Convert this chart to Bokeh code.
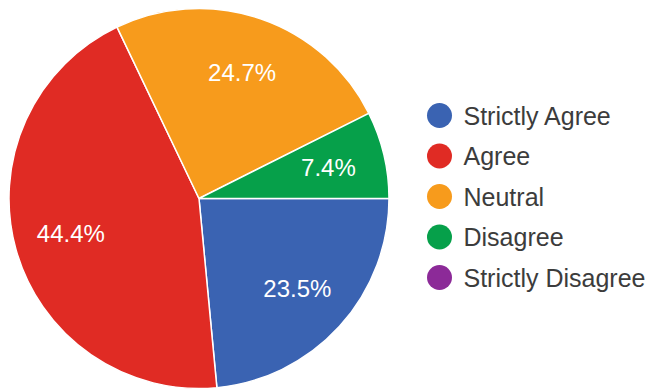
import math
from bokeh.plotting import figure
from bokeh.models import ColumnDataSource
from bokeh.core.properties import value
from bokeh.embed import file_html
from bokeh.resources import INLINE

categories = ["Strictly Agree", "Agree", "Neutral", "Disagree", "Strictly Disagree"]
percents = [23.5, 44.4, 24.7, 7.4, 0.0]
colors = ["#3a63b2", "#e02b24", "#f79b1c", "#06a04a", "#8c2a98"]

W, H = 652, 391
cx, cy, r = 198.5, H - 198, 190
label_r = 0.70 * r

p = figure(width=W, height=H, x_range=(0, W), y_range=(0, H),
           output_backend="svg", toolbar_location=None,
           min_border=0, outline_line_color=None)
p.axis.visible = False
p.grid.visible = False
p.background_fill_color = "white"
p.border_fill_color = "white"

total = sum(percents)
starts, ends, lx, ly, labels, wcol = [], [], [], [], [], []
cum = 0.0
for v, c in zip(percents, colors):
    a0 = cum / total * 2 * math.pi
    cum += v
    a1 = cum / total * 2 * math.pi
    if v <= 0:
        continue
    # clockwise from 3 o'clock
    starts.append(-a1)
    ends.append(-a0)
    wcol.append(c)
    mid = (a0 + a1) / 2
    lx.append(cx + label_r * math.cos(-mid))
    ly.append(cy + label_r * math.sin(-mid))
    labels.append(f"{v:.1f}%")

src = ColumnDataSource(dict(start=starts, end=ends, color=wcol,
                            lx=lx, ly=ly, label=labels))
p.wedge(x=cx, y=cy, radius=r, start_angle="start", end_angle="end",
        direction="anticlock", fill_color="color", line_color="white",
        line_width=1.5, source=src)
p.text(x="lx", y="ly", text="label", source=src, text_color="white",
       text_font=value("Liberation Sans"), text_font_size="24px",
       text_align="center", text_baseline="middle")

# legend
leg_x, leg_y0, leg_dy = 439, H - 115, 40.5
ly2 = [leg_y0 - i * leg_dy for i in range(len(categories))]
lsrc = ColumnDataSource(dict(x=[leg_x] * len(categories), y=ly2,
                             tx=[leg_x + 24] * len(categories),
                             name=categories, color=colors))
p.scatter(x="x", y="y", size=25, marker="circle", fill_color="color",
          line_color=None, source=lsrc)
p.text(x="tx", y="y", text="name", source=lsrc, text_color="#3c3c3c",
       text_font=value("Liberation Sans"), text_font_size="25px",
       text_align="left", text_baseline="middle")

open("out.html", "w").write(file_html(p, INLINE))
